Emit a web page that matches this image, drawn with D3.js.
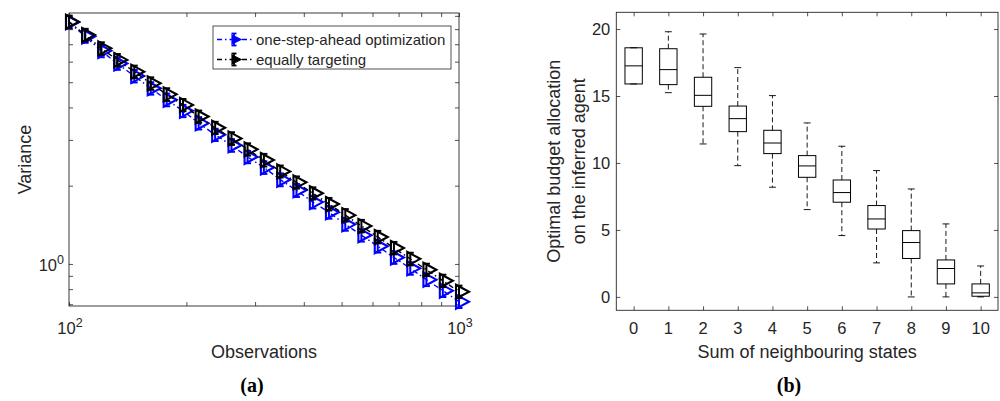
<!DOCTYPE html>
<html>
<head>
<meta charset="utf-8">
<script src="https://cdn.jsdelivr.net/npm/d3@7"></script>
<style>
  body { margin: 0; background: #fff; }
  svg text { font-family: "Liberation Sans", Arial, Helvetica, sans-serif; fill: #262626; }
  svg text.caption { font-family: "Liberation Serif", "DejaVu Serif", serif; fill: #000; }
</style>
</head>
<body>
<svg id="fig" width="1000" height="401"></svg>
<script>
// ---------- (a) variance against number of observations ----------
const observations = [100, 110, 121, 133, 147, 162, 178, 196, 215, 237, 261, 287, 316,
                      348, 383, 422, 464, 511, 562, 619, 681, 750, 825, 909, 1000];
const varOptimized = [8.51, 7.50, 6.60, 5.90, 5.28, 4.74, 4.28, 3.88, 3.48, 3.14, 2.86, 2.58, 2.35,
                      2.11, 1.92, 1.73, 1.58, 1.42, 1.29, 1.17, 1.059, 0.962, 0.870, 0.789, 0.716];
const errOptimized = [0.47, 0.41, 0.36, 0.32, 0.29, 0.26, 0.24, 0.21, 0.19, 0.17, 0.16, 0.14, 0.13,
                      0.12, 0.11, 0.095, 0.087, 0.078, 0.071, 0.064, 0.058, 0.053, 0.048, 0.043, 0.039];
const varEqual     = [8.55, 7.60, 6.75, 6.09, 5.49, 4.95, 4.49, 4.09, 3.69, 3.34, 3.04, 2.76, 2.51,
                      2.27, 2.06, 1.87, 1.70, 1.54, 1.40, 1.27, 1.152, 1.046, 0.950, 0.862, 0.782];
const errEqual     = [0.47, 0.42, 0.37, 0.33, 0.30, 0.27, 0.25, 0.22, 0.20, 0.18, 0.17, 0.15, 0.14,
                      0.12, 0.11, 0.10, 0.094, 0.085, 0.077, 0.070, 0.063, 0.058, 0.052, 0.047, 0.043];
const seriesNames  = ["one-step-ahead optimization", "equally targeting"];
const seriesColors = ["#0000ff", "#000000"];
const obsMajorTicks = [100, 1000];
const obsMinorTicks = [200, 300, 400, 500, 600, 700, 800, 900];
const varMajorTicks = [1];
const varMinorTicks = [0.7, 0.8, 0.9, 2, 3, 4, 5, 6, 7, 8, 9];

// ---------- (b) budget allocation box plot ----------
const neighbourSums = [0, 1, 2, 3, 4, 5, 6, 7, 8, 9, 10];
const budgetMin     = [15.9, 15.25, 11.42, 9.8, 8.19, 6.52, 4.58, 2.54, 0, 0, 0];
const budgetQ1      = [15.9, 15.85, 14.23, 12.34, 10.7, 8.93, 7.07, 5.07, 2.87, 0.97, 0.05];
const budgetMedian  = [17.25, 16.97, 15.05, 13.31, 11.49, 9.78, 7.79, 5.82, 4.06, 2.12, 0.3];
const budgetQ3      = [18.6, 18.53, 16.4, 14.25, 12.44, 10.55, 8.73, 6.82, 4.95, 2.76, 0.97];
const budgetMax     = [18.6, 19.8, 19.63, 17.12, 15.03, 12.99, 11.25, 9.43, 8.06, 5.45, 2.31];
const budgetTicks   = [0, 5, 10, 15, 20];

const svg = d3.select("#fig");
const ink = "#262626";

function styleAxis(g) {
  g.select(".domain").remove();
  g.selectAll(".tick line").attr("stroke", ink).attr("stroke-width", 0.8);
  g.selectAll("text").remove();
}

// ================= panel (a) =================
const A = { left: 69, right: 459, top: 13, bottom: 306 };
const xA = d3.scaleLog().domain([100, 1000]).range([A.left, A.right]);
const yA = d3.scaleLog().domain([0.689, 9.23]).range([A.bottom, A.top]);
const gA = svg.append("g");

const allX = obsMajorTicks.concat(obsMinorTicks);
const allY = varMajorTicks.concat(varMinorTicks);
gA.append("g").attr("transform", `translate(0,${A.bottom})`)
  .call(d3.axisBottom(xA).tickValues(allX).tickSizeInner(-4).tickSizeOuter(0)).call(styleAxis);
gA.append("g").attr("transform", `translate(0,${A.top})`)
  .call(d3.axisTop(xA).tickValues(allX).tickSizeInner(-4).tickSizeOuter(0)).call(styleAxis);
gA.append("g").attr("transform", `translate(${A.left},0)`)
  .call(d3.axisLeft(yA).tickValues(allY).tickSizeInner(-4).tickSizeOuter(0)).call(styleAxis);
gA.append("g").attr("transform", `translate(${A.right},0)`)
  .call(d3.axisRight(yA).tickValues(allY).tickSizeInner(-4).tickSizeOuter(0)).call(styleAxis);

gA.append("rect").attr("x", A.left).attr("y", A.top)
  .attr("width", A.right - A.left).attr("height", A.bottom - A.top)
  .attr("fill", "none").attr("stroke", ink).attr("stroke-width", 0.9);

function powerLabel(sel, exponent) {
  sel.text("10");
  sel.append("tspan").attr("dy", -7).attr("font-size", "12.5px").text(exponent);
}
obsMajorTicks.forEach(v => {
  gA.append("text").attr("x", xA(v) + 1).attr("y", 334).attr("text-anchor", "middle")
    .attr("font-size", "16.5px").call(powerLabel, Math.round(Math.log10(v)));
});
varMajorTicks.forEach(v => {
  gA.append("text").attr("x", A.left - 5).attr("y", yA(v) + 7).attr("text-anchor", "end")
    .attr("font-size", "16.5px").call(powerLabel, Math.round(Math.log10(v)));
});

gA.append("text").attr("x", (A.left + A.right) / 2).attr("y", 358)
  .attr("text-anchor", "middle").attr("font-size", "18px").text("Observations");
gA.append("text").attr("transform", `translate(31,${(A.top + A.bottom) / 2}) rotate(-90)`)
  .attr("text-anchor", "middle").attr("font-size", "18px").text("Variance");

const seriesA = [
  { name: seriesNames[0], values: varOptimized, errors: errOptimized, color: seriesColors[0] },
  { name: seriesNames[1], values: varEqual, errors: errEqual, color: seriesColors[1] }
];

const lineA = d3.line().x(d => xA(d.x)).y(d => yA(d.y));
const markerPath = (cx, cy) => `M${cx - 3},${cy - 7}L${cx + 10},${cy}L${cx - 3},${cy + 7}Z`;

function drawErrorMarker(g, cx, cy, top, bottom, color) {
  g.append("line").attr("x1", cx).attr("x2", cx).attr("y1", top).attr("y2", bottom)
    .attr("stroke", color).attr("stroke-width", 2);
  [top, bottom].forEach(yy => g.append("line").attr("x1", cx - 3.5).attr("x2", cx + 3.5)
    .attr("y1", yy).attr("y2", yy).attr("stroke", color).attr("stroke-width", 2));
  g.append("path").attr("d", markerPath(cx, cy)).attr("fill", "none")
    .attr("stroke", color).attr("stroke-width", 2.1).attr("stroke-linejoin", "miter");
}

seriesA.forEach(s => {
  const pts = observations.map((x, i) => ({ x, y: s.values[i], e: s.errors[i] }));
  const g = gA.append("g");
  g.append("path").datum(pts).attr("d", lineA).attr("fill", "none")
    .attr("stroke", s.color).attr("stroke-width", 1.4).attr("stroke-dasharray", "5,3,1.5,3");
  pts.forEach(p => drawErrorMarker(g, xA(p.x), yA(p.y), yA(p.y + p.e), yA(p.y - p.e), s.color));
});

// legend
const leg = gA.append("g");
leg.append("rect").attr("x", 213).attr("y", 26).attr("width", 238).attr("height", 43)
  .attr("fill", "#fff").attr("stroke", ink).attr("stroke-width", 0.8);
seriesA.forEach((s, i) => {
  const yy = 39.5 + i * 20;
  leg.append("line").attr("x1", 217).attr("x2", 253).attr("y1", yy).attr("y2", yy)
    .attr("stroke", s.color).attr("stroke-width", 1.4).attr("stroke-dasharray", "5,3,1.5,3");
  leg.append("line").attr("x1", 234).attr("x2", 234).attr("y1", yy - 6).attr("y2", yy + 6)
    .attr("stroke", s.color).attr("stroke-width", 1.8);
  [yy - 6, yy + 6].forEach(v => leg.append("line").attr("x1", 231.5).attr("x2", 236.5)
    .attr("y1", v).attr("y2", v).attr("stroke", s.color).attr("stroke-width", 1.8));
  leg.append("path").attr("d", `M232,${yy - 4.5}L241,${yy}L232,${yy + 4.5}Z`)
    .attr("fill", s.color).attr("stroke", s.color).attr("stroke-width", 1.2);
  leg.append("text").attr("x", 256).attr("y", yy).attr("dy", "0.35em")
    .attr("font-size", "15px").text(s.name);
});

gA.append("text").attr("class", "caption").attr("x", 252).attr("y", 392)
  .attr("text-anchor", "middle").attr("font-size", "20px").attr("font-weight", "bold").text("(a)");

// ================= panel (b) =================
const B = { left: 616.3, right: 998, top: 12.3, bottom: 310.3 };
const xB = d3.scaleLinear().domain([-0.5, 10.5]).range([B.left, B.right]);
const yB = d3.scaleLinear().domain([-1, 21.25]).range([B.bottom, B.top]);
const gB = svg.append("g");

gB.append("g").attr("transform", `translate(0,${B.bottom})`)
  .call(d3.axisBottom(xB).tickValues(neighbourSums).tickSizeInner(-4).tickSizeOuter(0)).call(styleAxis);
gB.append("g").attr("transform", `translate(0,${B.top})`)
  .call(d3.axisTop(xB).tickValues(neighbourSums).tickSizeInner(-4).tickSizeOuter(0)).call(styleAxis);
gB.append("g").attr("transform", `translate(${B.left},0)`)
  .call(d3.axisLeft(yB).tickValues(budgetTicks).tickSizeInner(-4).tickSizeOuter(0)).call(styleAxis);
gB.append("g").attr("transform", `translate(${B.right},0)`)
  .call(d3.axisRight(yB).tickValues(budgetTicks).tickSizeInner(-4).tickSizeOuter(0)).call(styleAxis);
gB.append("rect").attr("x", B.left).attr("y", B.top)
  .attr("width", B.right - B.left).attr("height", B.bottom - B.top)
  .attr("fill", "none").attr("stroke", ink).attr("stroke-width", 0.9);

neighbourSums.forEach(v => {
  gB.append("text").attr("x", xB(v)).attr("y", 334).attr("text-anchor", "middle")
    .attr("font-size", "16.5px").text(v);
});
budgetTicks.forEach(v => {
  gB.append("text").attr("x", B.left - 6).attr("y", yB(v)).attr("dy", "0.36em")
    .attr("text-anchor", "end").attr("font-size", "16.5px").text(v);
});

gB.append("text").attr("x", (B.left + B.right) / 2).attr("y", 358)
  .attr("text-anchor", "middle").attr("font-size", "18px").text("Sum of neighbouring states");
const yLab = gB.append("text")
  .attr("transform", `translate(560,${(B.top + B.bottom) / 2}) rotate(-90)`)
  .attr("text-anchor", "middle").attr("font-size", "18px");
yLab.append("tspan").attr("x", 0).attr("y", 0).text("Optimal budget allocation");
yLab.append("tspan").attr("x", 0).attr("y", 25).text("on the inferred agent");

const boxHalf = xB(0.25) - xB(0);
const capHalf = xB(0.1) - xB(0);
neighbourSums.forEach((k, i) => {
  const cx = xB(k);
  const g = gB.append("g");
  // whiskers
  [[budgetQ3[i], budgetMax[i]], [budgetQ1[i], budgetMin[i]]].forEach(([from, to]) => {
    if (from !== to) {
      g.append("line").attr("x1", cx).attr("x2", cx).attr("y1", yB(from)).attr("y2", yB(to))
        .attr("stroke", "#000").attr("stroke-width", 0.9).attr("stroke-dasharray", "5,3");
    }
    g.append("line").attr("x1", cx - capHalf).attr("x2", cx + capHalf)
      .attr("y1", yB(to)).attr("y2", yB(to)).attr("stroke", "#000").attr("stroke-width", 0.9);
  });
  // box
  g.append("rect").attr("x", cx - boxHalf).attr("y", yB(budgetQ3[i]))
    .attr("width", 2 * boxHalf).attr("height", yB(budgetQ1[i]) - yB(budgetQ3[i]))
    .attr("fill", "none").attr("stroke", "#000").attr("stroke-width", 1);
  // median
  g.append("line").attr("x1", cx - boxHalf).attr("x2", cx + boxHalf)
    .attr("y1", yB(budgetMedian[i])).attr("y2", yB(budgetMedian[i]))
    .attr("stroke", "#000").attr("stroke-width", 1);
});

gB.append("text").attr("class", "caption").attr("x", 789).attr("y", 392)
  .attr("text-anchor", "middle").attr("font-size", "20px").attr("font-weight", "bold").text("(b)");
</script>
</body>
</html>
